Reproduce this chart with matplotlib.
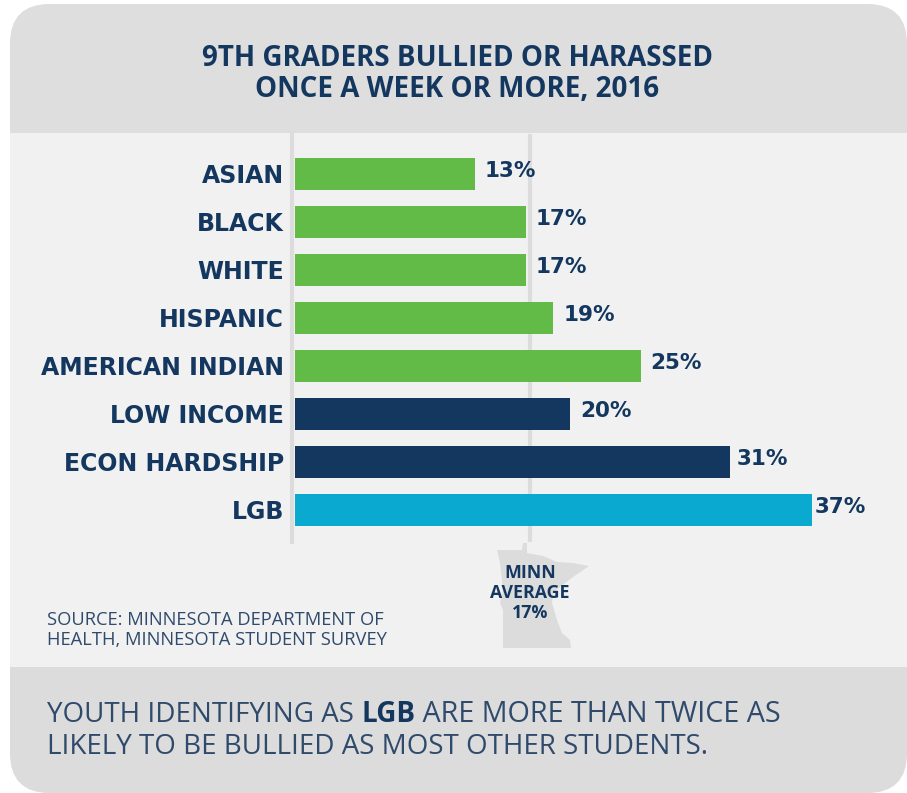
import matplotlib
matplotlib.use("Agg")
import matplotlib.pyplot as plt
from matplotlib.patches import FancyBboxPatch, Polygon, Rectangle

categories = ["ASIAN", "BLACK", "WHITE", "HISPANIC", "AMERICAN INDIAN", "LOW INCOME", "ECON HARDSHIP", "LGB"]
bar_lengths = [13.0, 16.7, 16.7, 18.7, 25.0, 19.9, 31.5, 37.4]
value_labels = ["13%", "17%", "17%", "19%", "25%", "20%", "31%", "37%"]
label_offsets = [10, 10, 10, 10, 10, 10, 6, 3]
bar_colors = ["#62bb46"] * 5 + ["#14375f"] * 2 + ["#0aa9cf"]
minn_average = 17

NAVY = "#14375f"
plt.rcParams["font.family"] = ["Open Sans", "DejaVu Sans"]
W, H = 907, 793
fig = plt.figure(figsize=(W / 100, H / 100), dpi=100, facecolor="white")

bg = fig.add_axes([0, 0, 1, 1])
bg.set_xlim(0, W); bg.set_ylim(H, 0); bg.axis("off")
card = FancyBboxPatch((10, 4), 897, 789, boxstyle="round,pad=0,rounding_size=40",
                      fc="#f1f1f1", ec="none", zorder=1)
bg.add_patch(card)
for y0, h, c in [(0, 133, "#dedede"), (667, 126, "#dcdcdc")]:
    r = Rectangle((0, y0), W, h, fc=c, ec="none", zorder=2)
    r.set_clip_path(card)
    bg.add_patch(r)
# Minnesota outline
mn = [(497, 550), (522, 550), (523, 543), (527, 543), (527, 553), (543, 556), (557, 562),
      (573, 563), (589, 566), (573, 577), (560, 587), (553, 593), (552, 603), (557, 620),
      (562, 633), (570, 640), (571, 648), (503, 648), (503, 610), (500, 603), (503, 590), (500, 563)]
bg.add_patch(Polygon(mn, closed=True, fc="#dcdcdc", ec="none", zorder=2.5))

bg.text(457, 74, "9TH GRADERS BULLIED OR HARASSED\nONCE A WEEK OR MORE, 2016", ha="center", va="center",
        fontsize=20, fontweight="bold", color=NAVY, linespacing=1.12, zorder=5)
bg.text(47, 630, "SOURCE: MINNESOTA DEPARTMENT OF\nHEALTH, MINNESOTA STUDENT SURVEY", ha="left", va="center",
        fontsize=13.2, color="#2f4a6b", linespacing=1.2, zorder=5)
bg.text(530, 593, "MINN\nAVERAGE\n17%", ha="center", va="center", fontsize=12.8, fontweight="bold",
        color=NAVY, linespacing=1.12, zorder=5)
t1 = bg.text(47, 715, "YOUTH IDENTIFYING AS ", ha="left", va="center", fontsize=20, color="#2f4a6b", zorder=5)
fig.canvas.draw()
e1 = t1.get_window_extent()
t2 = bg.text(e1.x1, 715, "LGB", ha="left", va="center", fontsize=20, fontweight="bold", color=NAVY, zorder=5)
e2 = t2.get_window_extent()
bg.text(e2.x1, 715, " ARE MORE THAN TWICE AS", ha="left", va="center", fontsize=20.7, color="#2f4a6b", zorder=5)
bg.text(47, 747, "LIKELY TO BE BULLIED AS MOST OTHER STUDENTS.", ha="left", va="center", fontsize=20,
        color="#2f4a6b", zorder=5)

# Bar axes in pixel extent
x0, x1, y0, y1 = 295, 875, 134, 542
ax = fig.add_axes([x0 / W, 1 - y1 / H, (x1 - x0) / W, (y1 - y0) / H], facecolor="none", zorder=3)
for s in ["top", "right", "bottom"]:
    ax.spines[s].set_visible(False)
ax.spines["left"].set_color("#dcdcdc")
ax.spines["left"].set_linewidth(3)
ax.spines["left"].set_position(("outward", 2))
ax.set_xlim(0, (x1 - x0) / 13.82)
ax.set_ylim((y1 - 173.5) / 48, (y0 - 173.5) / 48)
ax.axvline(minn_average, color="#dcdcdc", lw=3, zorder=1)
ax.barh(range(len(categories)), bar_lengths, height=32 / 48, color=bar_colors, zorder=2)
for i, (v, lab, off) in enumerate(zip(bar_lengths, value_labels, label_offsets)):
    ax.annotate(lab, (v, i), xytext=(off * 0.72, 1.5), textcoords="offset points", va="center", ha="left",
                fontsize=15.5, fontweight="bold", color=NAVY, family="DejaVu Sans")
ax.set_xticks([])
ax.set_yticks(range(len(categories)), categories, fontweight="bold", family="DejaVu Sans",
              fontsize=17, color=NAVY)
ax.tick_params(axis="y", length=0, pad=6)

fig.savefig("out.png", dpi=100)
